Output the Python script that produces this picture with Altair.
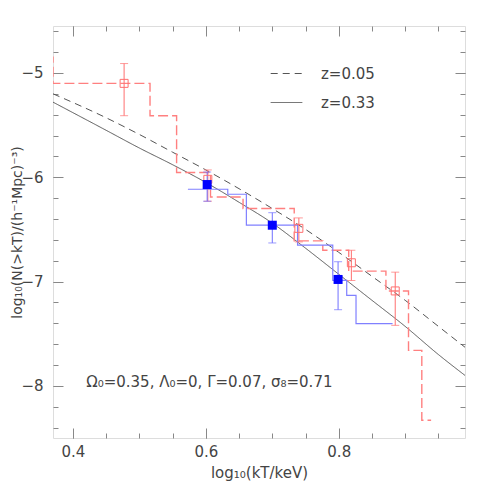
import altair as alt
import pandas as pd

# ---- data ----
curve_x = [0.37, 0.45, 0.50, 0.55, 0.60, 0.65, 0.70, 0.75, 0.80, 0.85, 0.90, 0.95, 0.99]
curve_z005 = [-5.20, -5.43, -5.59, -5.76, -5.93, -6.11, -6.30, -6.50, -6.72, -6.95, -7.18, -7.43, -7.63]
curve_z033 = [-5.28, -5.55, -5.72, -5.88, -6.05, -6.24, -6.44, -6.68, -6.93, -7.18, -7.43, -7.70, -7.90]
series_labels = ["z=0.05", "z=0.33"]

red_step_x = [0.30, 0.370, 0.516, 0.556, 0.607, 0.656, 0.733, 0.776, 0.815, 0.871, 0.905, 0.925, 0.939]
red_step_y = [-4.85, -5.10, -5.41, -5.955, -6.19, -6.30, -6.61, -6.70, -6.90, -7.09, -7.66, -8.33, -8.33]

blue_step_x = [0.573, 0.633, 0.661, 0.738, 0.791, 0.812, 0.826, 0.881]
blue_step_y = [-6.115, -6.163, -6.459, -6.651, -6.988, -7.132, -7.404, -7.404]

red_x = [0.477, 0.603, 0.740, 0.819, 0.885]
red_y = [-5.10, -6.02, -6.49, -6.82, -7.09]
red_lo = [-5.41, -6.23, -6.62, -6.99, -7.42]
red_hi = [-4.91, -5.93, -6.39, -6.70, -6.91]

blue_x = [0.602, 0.700, 0.799]
blue_y = [-6.07, -6.46, -6.98]
blue_lo = [-6.23, -6.63, -7.27]
blue_hi = [-5.95, -6.34, -6.81]

x_major = [0.4, 0.6, 0.8]
x_minor = [round(0.4 + 0.05 * i, 2) for i in range(12)]
y_major = [-8, -7, -6, -5]
y_minor = [round(-8.4 + 0.2 * i, 1) for i in range(20)]

annotation = "Ω₀=0.35,  Λ₀=0,  Γ=0.07,  σ₈=0.71"
x_title = "log₁₀(kT/keV)"
y_title = "log₁₀(N(>kT)/(h⁻¹Mpc)⁻³)"

# ---- tables ----
curves = pd.DataFrame({
    "x": curve_x * 2,
    "y": curve_z005 + curve_z033,
    "series": [series_labels[0]] * len(curve_x) + [series_labels[1]] * len(curve_x),
})
red_step = pd.DataFrame({"x": red_step_x, "y": red_step_y})
blue_step = pd.DataFrame({"x": blue_step_x, "y": blue_step_y})
red_pts = pd.DataFrame({"x": red_x, "y": red_y, "lo": red_lo, "hi": red_hi})
blue_pts = pd.DataFrame({"x": blue_x, "y": blue_y, "lo": blue_lo, "hi": blue_hi})
red_caps = pd.DataFrame({"x": red_x * 2, "y": red_lo + red_hi})
blue_caps = pd.DataFrame({"x": blue_x * 2, "y": blue_lo + blue_hi})
note = pd.DataFrame({"x": [0.42], "y": [-7.96], "label": [annotation]})

xs = alt.Scale(domain=[0.37, 0.99], nice=False, zero=False)
ys = alt.Scale(domain=[-8.5, -4.55], nice=False, zero=False)

FRAME = "#888888"
TXT = "#444444"
FONT = "DejaVu Sans"

def ax(orient, values, size, labels=False, title=None, fmt=None, lp=8, tp=4, tfs=15):
    kw = dict(orient=orient, values=values, tickSize=size, offset=-size, domain=False,
              grid=False, labels=labels, tickColor=FRAME, tickWidth=1)
    if labels:
        kw.update(labelFontSize=15, labelFont=FONT, labelColor=TXT, labelPadding=lp, format=fmt)
    if title:
        kw.update(title=title, titleFontSize=tfs, titleFont=FONT, titleFontWeight="normal",
                  titleColor=TXT, titlePadding=tp)
    else:
        kw.update(title=None)
    return alt.Axis(**kw)

curve_layer = alt.Chart(curves).mark_line(color="#555555", strokeWidth=1, clip=True, interpolate="monotone").encode(
    x=alt.X("x:Q", scale=xs, axis=ax("bottom", x_major, 10, True, x_title, ".1f", 6, 6)),
    y=alt.Y("y:Q", scale=ys, axis=ax("left", y_major, 10, True, y_title, ".0f", 10, -4, 14)),
    strokeDash=alt.StrokeDash(
        "series:N",
        scale=alt.Scale(domain=series_labels, range=[[7, 5], [1, 0]]),
        legend=alt.Legend(
            title=None, orient="none", legendX=217, legendY=31, padding=0,
            symbolType="stroke", symbolSize=1000, symbolStrokeColor="#555555",
            symbolStrokeWidth=1, labelFontSize=15, labelFont=FONT, labelColor=TXT,
            labelOffset=18, rowPadding=4,
        ),
    ),
    detail="series:N",
)

red_step_layer = alt.Chart(red_step).mark_line(
    color="#ff8080", strokeWidth=1.4, strokeDash=[10, 4], interpolate="step-after", clip=True
).encode(
    x=alt.X("x:Q", scale=xs, axis=ax("bottom", x_minor, 5)),
    y=alt.Y("y:Q", scale=ys, axis=ax("left", y_minor, 5)),
)

blue_step_layer = alt.Chart(blue_step).mark_line(
    color="#8080ff", strokeWidth=1.2, interpolate="step-after", clip=True
).encode(
    x=alt.X("x:Q", scale=xs, axis=ax("top", x_major, 10)),
    y=alt.Y("y:Q", scale=ys, axis=ax("right", y_major, 10)),
)

red_err = alt.Chart(red_pts).mark_rule(color="#ff7070", strokeWidth=1).encode(
    x=alt.X("x:Q", scale=xs, axis=ax("top", x_minor, 5)),
    y=alt.Y("lo:Q", scale=ys, axis=ax("right", y_minor, 5)),
    y2="hi:Q",
)
red_cap = alt.Chart(red_caps).mark_tick(color="#ff7070", size=8, thickness=1, orient="horizontal").encode(
    x=alt.X("x:Q", scale=xs, axis=None),
    y=alt.Y("y:Q", scale=ys, axis=None),
)
blue_err = alt.Chart(blue_pts).mark_rule(color="#7070ff", strokeWidth=1).encode(
    x=alt.X("x:Q", scale=xs, axis=None),
    y=alt.Y("lo:Q", scale=ys, axis=None),
    y2="hi:Q",
)
blue_cap = alt.Chart(blue_caps).mark_tick(color="#7070ff", size=8, thickness=1, orient="horizontal").encode(
    x=alt.X("x:Q", scale=xs, axis=None),
    y=alt.Y("y:Q", scale=ys, axis=None),
)
red_sq = alt.Chart(red_pts).mark_square(size=64, filled=False, stroke="#ff7070", strokeWidth=1, opacity=1).encode(
    x=alt.X("x:Q", scale=xs, axis=None),
    y=alt.Y("y:Q", scale=ys, axis=None),
)
blue_sq = alt.Chart(blue_pts).mark_square(size=81, filled=True, color="#0000ff", opacity=1).encode(
    x=alt.X("x:Q", scale=xs, axis=None),
    y=alt.Y("y:Q", scale=ys, axis=None),
)
note_layer = alt.Chart(note).mark_text(
    align="left", baseline="middle", fontSize=15, font=FONT, color=TXT
).encode(
    x=alt.X("x:Q", scale=xs, axis=None),
    y=alt.Y("y:Q", scale=ys, axis=None),
    text="label:N",
)

chart = alt.layer(
    curve_layer, red_step_layer, blue_step_layer, red_err, red_cap,
    blue_err, blue_cap, red_sq, blue_sq, note_layer,
).resolve_axis(x="independent", y="independent").properties(
    width=412, height=412,
    padding={"left": 45, "top": 18, "right": 18, "bottom": 55},
    autosize=alt.AutoSizeParams(type="none"),
).configure_view(stroke=FRAME, strokeWidth=1).configure(font=FONT, background="white")

chart.save("out.html", embed_options={"renderer": "svg", "actions": False})
